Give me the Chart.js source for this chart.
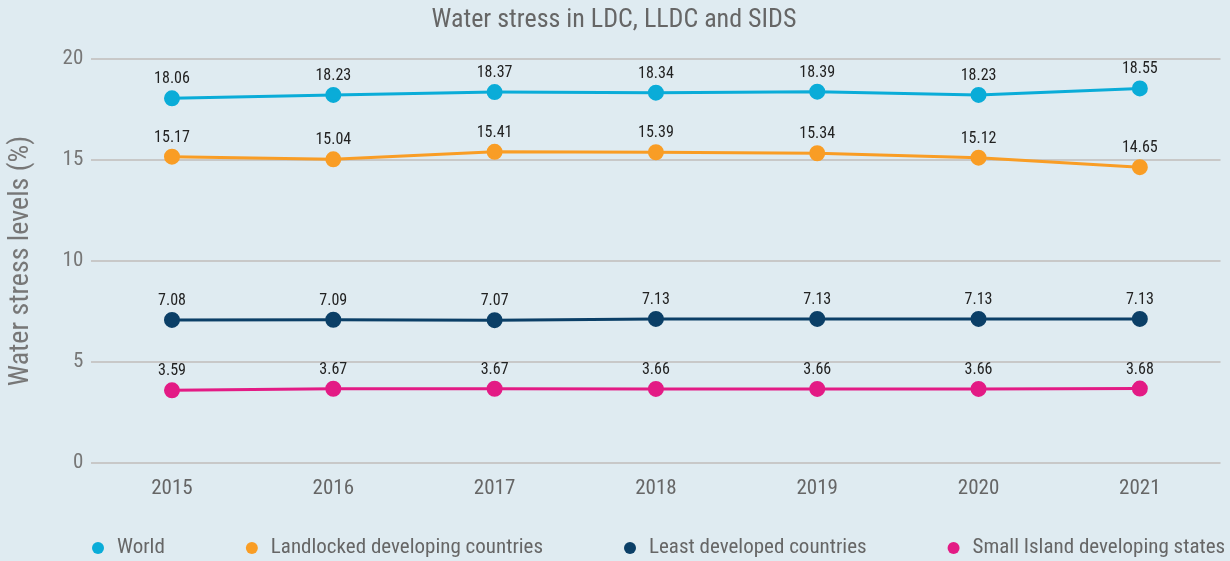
<!DOCTYPE html>
<html><head><meta charset="utf-8">
<script src="https://cdn.jsdelivr.net/npm/chart.js@4/dist/chart.umd.min.js"></script>
<style>
html,body{margin:0;padding:0;background:#dfebf1;}
#wrap{width:1230px;height:561px;position:relative;}
</style></head>
<body><div id="wrap"><canvas id="c" width="1230" height="561"></canvas></div>
<script>
const years = ['2015','2016','2017','2018','2019','2020','2021'];
const world = [18.06,18.23,18.37,18.34,18.39,18.23,18.55];
const lldc = [15.17,15.04,15.41,15.39,15.34,15.12,14.65];
const ldc = [7.08,7.09,7.07,7.13,7.13,7.13,7.13];
const sids = [3.59,3.67,3.67,3.66,3.66,3.66,3.68];
const seriesNames = ['World','Landlocked developing countries','Least developed countries','Small Island developing states'];
const seriesColors = ['#0aacd8','#f99d25','#0b3f67','#e31b85'];

const FONT = "'Roboto Condensed','Liberation Sans Narrow',Roboto,sans-serif";

const labelPlugin = {
  id:'vlabels',
  afterDatasetsDraw(chart){
    const ctx = chart.ctx;
    ctx.save();
    ctx.font = "16px " + FONT;
    ctx.fillStyle = '#222';
    ctx.textAlign = 'center';
    ctx.textBaseline = 'bottom';
    chart.data.datasets.forEach((ds,i)=>{
      chart.getDatasetMeta(i).data.forEach((pt,j)=>{
        ctx.fillText(ds.data[j].toFixed(2), pt.x, pt.y - 11);
      });
    });
    ctx.restore();
  }
};

// bottom legend drawn from the datasets
const legendPlugin = {
  id:'bottomLegend',
  afterDraw(chart){
    const ctx = chart.ctx;
    ctx.save();
    ctx.font = "21px " + FONT;
    ctx.textBaseline = 'middle';
    ctx.textAlign = 'left';
    const y = 548;
    let x = 98;
    const gap = 87;
    chart.data.datasets.forEach(ds=>{
      ctx.fillStyle = ds.backgroundColor;
      ctx.beginPath(); ctx.arc(x, y, 6, 0, Math.PI*2); ctx.fill();
      ctx.fillStyle = '#666';
      ctx.fillText(ds.label, x + 19, y);
      x += 19 + ctx.measureText(ds.label).width + gap;
    });
    ctx.restore();
  }
};

const sets = [world,lldc,ldc,sids].map((d,i)=>({
  label: seriesNames[i], data: d,
  borderColor: seriesColors[i], backgroundColor: seriesColors[i],
  pointBackgroundColor: seriesColors[i], pointBorderColor: seriesColors[i],
  borderWidth: 3, pointRadius: 6.5, pointHoverRadius: 6.5, tension: 0
}));

new Chart(document.getElementById('c'), {
  type:'line',
  data:{labels:years, datasets:sets},
  plugins:[labelPlugin, legendPlugin],
  options:{
    responsive:false, animation:false,
    layout:{padding:{left:0,right:2,top:0,bottom:55}},
    plugins:{
      title:{display:true, text:'Water stress in LDC, LLDC and SIDS', color:'#666',
        font:{family:FONT,size:26,weight:'normal'}, padding:{top:5,bottom:23}},
      legend:{display:false},
      tooltip:{enabled:false}
    },
    scales:{
      x:{offset:true, grid:{display:false}, border:{display:false},
        ticks:{color:'#666', font:{family:FONT,size:21}, padding:5}},
      y:{min:0,max:20, grid:{color:'#c8c8c8', lineWidth:2, drawTicks:false}, border:{display:false},
        ticks:{stepSize:5, color:'#777', font:{family:FONT,size:21}, padding:8},
        title:{display:true, text:'Water stress levels (%)', color:'#777', font:{family:FONT,size:28}, padding:{top:4,bottom:17}}}
    }
  }
});
</script></body></html>
